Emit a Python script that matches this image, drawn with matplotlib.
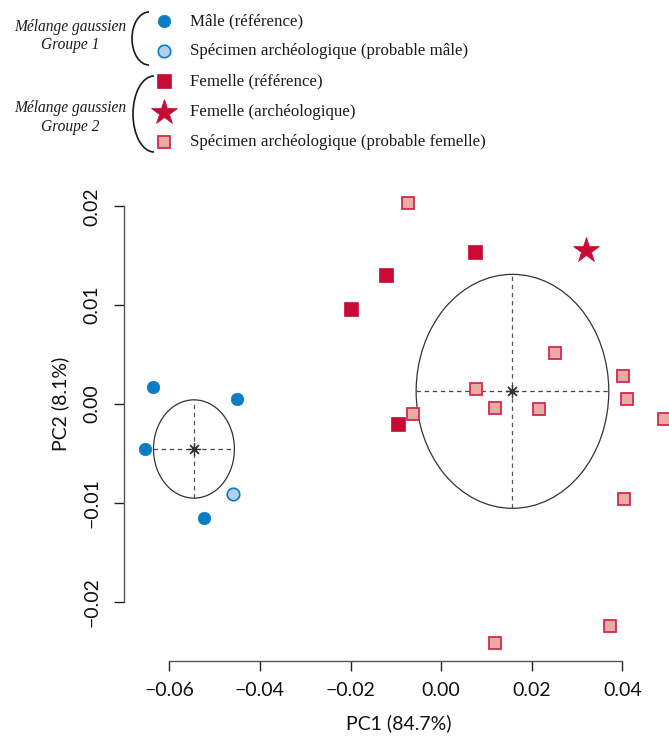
import numpy as np
import matplotlib
matplotlib.use('Agg')
import matplotlib.pyplot as plt
from matplotlib.patches import Ellipse, Arc

# --- DATOS ---
male_ref_x = [-0.0636, -0.0451, -0.0653, -0.0524]
male_ref_y = [0.00172, 0.00051, -0.00455, -0.0115]
male_arch_x = [-0.0459]
male_arch_y = [-0.0091]

fem_ref_x = [0.00749, -0.01212, -0.01981, -0.00948]
fem_ref_y = [0.01534, 0.01301, 0.00958, -0.00205]
fem_arch_x = [0.0320]
fem_arch_y = [0.01554]
fem_prob_x = [-0.00724, 0.02518, 0.04016, 0.00765, 0.04104, -0.00628,
              0.01181, 0.02166, 0.0492, 0.0404, 0.03735, 0.01181]
fem_prob_y = [0.02035, 0.00516, 0.00286, 0.00149, 0.00051, -0.00098,
              -0.00037, -0.00054, -0.00152, -0.0096, -0.02242, -0.02417]

# centros y semiejes de los grupos del mélange gaussien
group_cx = [-0.05456, 0.01574]
group_cy = [-0.00455, 0.00128]
group_rx = [0.00893, 0.02126]
group_ry = [0.00497, 0.01183]

x_ticks = [-0.06, -0.04, -0.02, 0.00, 0.02, 0.04]
y_ticks = [-0.02, -0.01, 0.00, 0.01, 0.02]

legend_labels = ["Mâle (référence)",
                 "Spécimen archéologique (probable mâle)",
                 "Femelle (référence)",
                 "Femelle (archéologique)",
                 "Spécimen archéologique (probable femelle)"]

# --- COLORES ---
BLUE = '#0A7DC4'
LIGHT_BLUE = '#B4CFEA'
RED = '#C90A35'
LIGHT_RED = '#E8ACA4'
RED_EDGE = '#D42A4E'
GREY = '#333333'

# tamaños de marcador
MS_CIRC = 9.0
MS_SQ = 9.6
MS_SQ_LIGHT = 9.2
MS_STAR = 19

W, H = 669, 744
fig = plt.figure(figsize=(W / 100, H / 100), dpi=100)

# --- PANEL PRINCIPAL ---
px_left, px_right, px_top, px_bottom = 124, 669, 190, 661
ax = fig.add_axes([px_left / W, 1 - px_bottom / H,
                   (px_right - px_left) / W, (px_bottom - px_top) / H])
ax.set_xlim(-0.0700, 0.05029)
ax.set_ylim(-0.02599, 0.02164)

for cx, cy, rx, ry in zip(group_cx, group_cy, group_rx, group_ry):
    ax.add_patch(Ellipse((cx, cy), 2 * rx, 2 * ry, fill=False,
                         edgecolor=GREY, lw=0.9, zorder=2))
    ax.plot([cx - rx, cx + rx], [cy, cy], color='#444444', lw=0.9,
            dashes=(3.5, 3), zorder=2)
    ax.plot([cx, cx], [cy - ry, cy + ry], color='#555555', lw=0.9,
            dashes=(3.5, 3), zorder=2)
    ax.plot([cx], [cy], marker=(8, 2, 0), ms=9, mec=GREY, mew=0.9,
            ls='none', zorder=3)

ax.plot(male_ref_x, male_ref_y, 'o', ms=MS_CIRC, mfc=BLUE, mec=BLUE, mew=0.5, zorder=4)
ax.plot(male_arch_x, male_arch_y, 'o', ms=MS_CIRC, mfc=LIGHT_BLUE, mec=BLUE, mew=1.2, zorder=4)
ax.plot(fem_ref_x, fem_ref_y, 's', ms=MS_SQ, mfc=RED, mec=RED, mew=0.5, zorder=4)
ax.plot(fem_prob_x, fem_prob_y, 's', ms=MS_SQ_LIGHT, mfc=LIGHT_RED, mec=RED_EDGE, mew=1.3, zorder=4)
ax.plot(fem_arch_x, fem_arch_y, '*', ms=MS_STAR, mfc=RED, mec=RED, mew=0.5, zorder=4)

# ejes estilo R
for s in ['top', 'right']:
    ax.spines[s].set_visible(False)
ax.spines['left'].set_bounds(y_ticks[0], y_ticks[-1])
ax.spines['bottom'].set_bounds(x_ticks[0], x_ticks[-1])
for s in ['left', 'bottom']:
    ax.spines[s].set_color('#555555')
    ax.spines[s].set_linewidth(1.0)
ax.set_xticks(x_ticks)
ax.set_yticks(y_ticks)
ax.set_xticklabels(['\u22120.06', '\u22120.04', '\u22120.02', '0.00', '0.02', '0.04'])
ax.set_yticklabels(['\u22120.02', '\u22120.01', '0.00', '0.01', '0.02'])
ax.tick_params(direction='out', length=7.2, width=1.0, color='#222222',
               labelsize=14, labelcolor='#111111')
ax.tick_params(axis='x', pad=8)
ax.tick_params(axis='y', pad=10)
for lab in ax.get_xticklabels() + ax.get_yticklabels():
    lab.set_family('Lato')
for lab in ax.get_yticklabels():
    lab.set_rotation(90)
    lab.set_va('center')

ax.set_xlabel('PC1 (84.7%)', fontsize=14, family='Lato', color='#111111')
ax.set_ylabel('PC2 (8.1%)', fontsize=14, family='Lato', color='#111111')
ax.xaxis.label.set_va('center')
ax.yaxis.label.set_va('center')
ax.xaxis.set_label_coords(0.5035, -(723 - px_bottom) / (px_bottom - px_top))
ax.yaxis.set_label_coords(-(px_left - 60) / (px_right - px_left),
                          (px_bottom - 403.5) / (px_bottom - px_top))

# --- LEYENDA (en coordenadas de píxel) ---
lg = fig.add_axes([0, 0, 1, 1])
lg.set_xlim(0, W)
lg.set_ylim(H, 0)
lg.axis('off')
lg.patch.set_alpha(0)

row_y = [21, 51, 81, 112, 142]
mark_x = 164
lg.plot(mark_x, row_y[0], 'o', ms=MS_CIRC, mfc=BLUE, mec=BLUE, mew=0.5)
lg.plot(mark_x, row_y[1], 'o', ms=MS_CIRC, mfc=LIGHT_BLUE, mec=BLUE, mew=1.2)
lg.plot(mark_x, row_y[2], 's', ms=MS_SQ, mfc=RED, mec=RED, mew=0.5)
lg.plot(mark_x, row_y[3], '*', ms=MS_STAR, mfc=RED, mec=RED, mew=0.5)
lg.plot(mark_x, row_y[4], 's', ms=MS_SQ_LIGHT, mfc=LIGHT_RED, mec=RED_EDGE, mew=1.3)
for y, txt in zip(row_y, legend_labels):
    lg.text(190, y, txt, fontsize=12.2, family='Liberation Serif',
            va='center', ha='left', color='#1a1a1a')

# llaves
lg.add_patch(Arc((149, 38.5), 34, 53, theta1=90, theta2=270, lw=1.2, color='#1a1a1a'))
lg.add_patch(Arc((154, 114), 42, 76, theta1=90, theta2=270, lw=1.2, color='#1a1a1a'))

for (y1, y2), name in zip([(27, 45), (108, 127)], ['Groupe 1', 'Groupe 2']):
    lg.text(70, y1, 'Mélange gaussien', fontsize=11.2, family='Liberation Serif',
            style='italic', ha='center', va='center', color='#1a1a1a')
    lg.text(70, y2, name, fontsize=11.2, family='Liberation Serif',
            style='italic', ha='center', va='center', color='#1a1a1a')

fig.savefig('out.png', dpi=100)
